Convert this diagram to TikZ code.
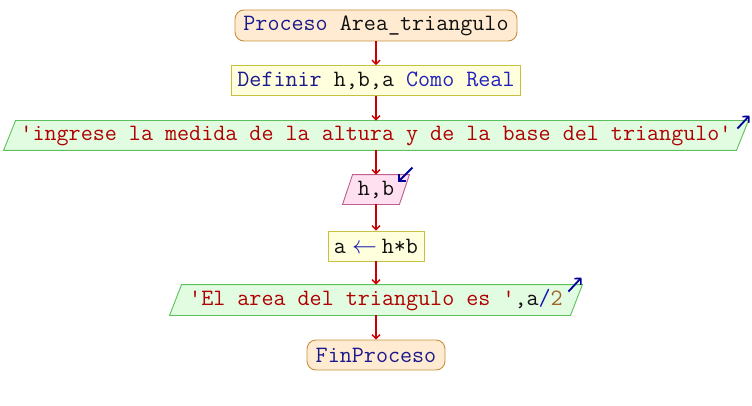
\documentclass[tikz,border=0pt]{standalone}
\usepackage{fontspec}
\usetikzlibrary{arrows.meta,calc,backgrounds}
\definecolor{kw}{HTML}{1A1A8C}
\definecolor{ty}{HTML}{2222BB}
\definecolor{str}{HTML}{B00000}
\definecolor{num}{HTML}{A0642A}
\definecolor{op}{HTML}{1A1AAA}
\definecolor{idc}{HTML}{101010}
\definecolor{flow}{HTML}{CC0000}
\definecolor{icon}{HTML}{000099}
\definecolor{termfill}{HTML}{FFEBD2}
\definecolor{termdraw}{HTML}{C8903C}
\definecolor{procfill}{HTML}{FFFFDD}
\definecolor{procdraw}{HTML}{C8C040}
\definecolor{outfill}{HTML}{E2FCE2}
\definecolor{outdraw}{HTML}{5CC05C}
\definecolor{infill}{HTML}{FFE0F0}
\definecolor{indraw}{HTML}{C06090}
\tikzset{
  base/.style={inner sep=0pt, font=\ttfamily\fontsize{23.4}{27}\selectfont, text=idc, line width=0.9pt},
  term/.style={base, draw=termdraw, fill=termfill, rounded corners=9pt},
  proc/.style={base, draw=procdraw, fill=procfill},
  iobox/.style={base},
  outshape/.style={draw=outdraw, fill=outfill, line width=0.9pt},
  inshape/.style={draw=indraw, fill=infill, line width=0.9pt},
  flowarrow/.style={draw=flow, line width=1.4pt, -{Straight Barb[length=4pt,width=8pt,line width=1.4pt]}},
  iconarrow/.style={draw=icon, line width=1.8pt, -{Straight Barb[length=4.5pt,width=9pt,line width=1.6pt]}}
}
\begin{document}
\begin{tikzpicture}[x=1pt,y=1pt]
\useasboundingbox (0,0) rectangle (752,405);
% nodes (y = 405 - pixel y)
\node[term, minimum width=282, minimum height=31] (start) at (376,379.5)
  {\textcolor{kw}{Proceso} Area\_triangulo};
\node[proc, minimum width=289, minimum height=30] (def) at (376,324.5)
  {\textcolor{kw}{Definir} h,b,a \textcolor{ty}{Como Real}};
\node[iobox, minimum width=732, minimum height=29] (out1) at (376,269.5)
  {\textcolor{str}{'ingrese la medida de la altura y de la base del triangulo'}};
\node[iobox, minimum width=56, minimum height=29] (inp) at (376,215.5)
  {h,b};
\node[proc, minimum width=96, minimum height=30] (asg) at (376,159)
  {a\hspace{6pt}\textcolor{op}{$\leftarrow$}\hspace{5pt}h*b};
\node[iobox, minimum width=400, minimum height=30] (out2) at (376,105)
  {\textcolor{str}{'El area del triangulo es '},a\textcolor{op}{/}\textcolor{num}{2}};
\node[term, minimum width=138, minimum height=30] (fin) at (376,50)
  {\textcolor{kw}{FinProceso}};
% parallelogram outlines
\begin{scope}[on background layer]
\filldraw[outshape] ($(out1.south west)+(-6,0)$) -- ($(out1.north west)+(6,0)$)
  -- ($(out1.north east)+(6,0)$) -- ($(out1.south east)+(-6,0)$) -- cycle;
\filldraw[inshape] ($(inp.south west)+(-5,0)$) -- ($(inp.north west)+(5,0)$)
  -- ($(inp.north east)+(5,0)$) -- ($(inp.south east)+(-5,0)$) -- cycle;
\filldraw[outshape] ($(out2.south west)+(-6,0)$) -- ($(out2.north west)+(6,0)$)
  -- ($(out2.north east)+(6,0)$) -- ($(out2.south east)+(-6,0)$) -- cycle;
\end{scope}
% icons
\coordinate (i1a) at ($(out1.north east)+(-5,-8)$);
\coordinate (i1b) at ($(out1.north east)+(7,5)$);
\draw[iconarrow] (i1a) -- (i1b);
\coordinate (i2a) at ($(inp.north east)+(8,7)$);
\coordinate (i2b) at ($(inp.north east)+(-6,-7)$);
\draw[iconarrow] (i2a) -- (i2b);
\coordinate (i3a) at ($(out2.north east)+(-8,-7)$);
\coordinate (i3b) at ($(out2.north east)+(5,7)$);
\draw[iconarrow] (i3a) -- (i3b);
% flow
\draw[flowarrow] (start) -- (def);
\draw[flowarrow] (def) -- (out1);
\draw[flowarrow] (out1) -- (inp);
\draw[flowarrow] (inp) -- (asg);
\draw[flowarrow] (asg) -- (out2);
\draw[flowarrow] (out2) -- (fin);
\end{tikzpicture}
\end{document}
